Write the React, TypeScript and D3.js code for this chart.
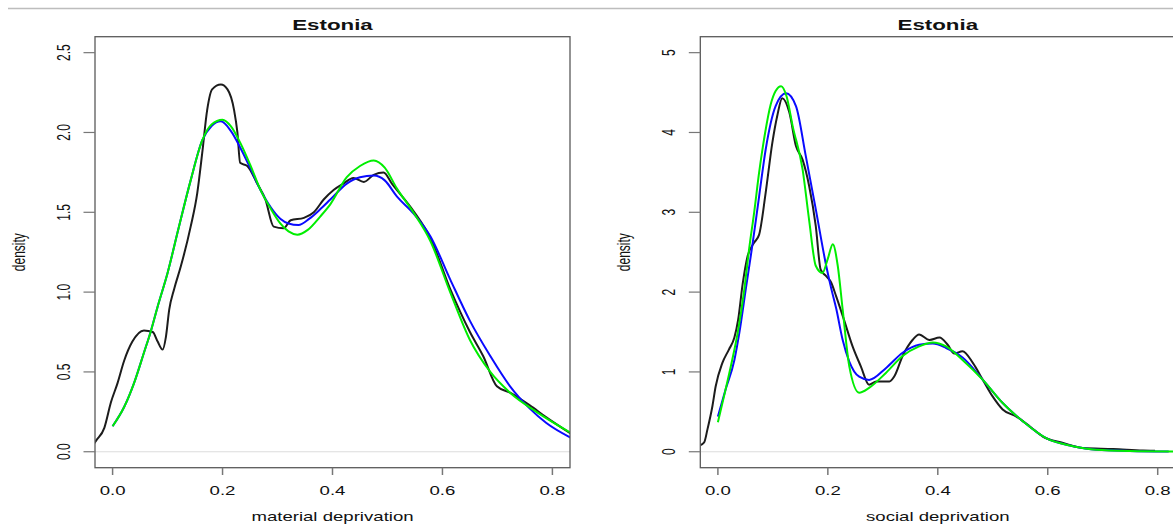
import { useMemo } from "react";
import * as d3 from "d3";

// density curves: [x, density]
const materialEmpirical: [number, number][] = [
  [-0.034, 0.05], [-0.03, 0.07], [-0.015, 0.15], [-0.003, 0.31], [0.009, 0.43], [0.021, 0.57], [0.036, 0.69],
  [0.057, 0.76], [0.073, 0.75], [0.082, 0.69], [0.091, 0.64], [0.097, 0.72], [0.103, 0.89],
  [0.112, 1.02], [0.124, 1.16], [0.142, 1.41], [0.154, 1.62], [0.163, 1.87], [0.172, 2.14],
  [0.181, 2.27], [0.197, 2.3], [0.209, 2.27], [0.221, 2.14], [0.227, 2.0], [0.232, 1.81],
  [0.245, 1.79], [0.263, 1.68], [0.278, 1.58], [0.293, 1.41], [0.311, 1.4], [0.324, 1.45],
  [0.348, 1.465], [0.366, 1.5], [0.384, 1.58], [0.402, 1.64], [0.42, 1.68], [0.438, 1.715],
  [0.457, 1.69], [0.475, 1.735], [0.493, 1.75], [0.508, 1.68], [0.547, 1.51], [0.578, 1.34],
  [0.614, 1.02], [0.65, 0.75], [0.674, 0.6], [0.699, 0.41], [0.723, 0.37], [0.759, 0.29],
  [0.789, 0.215], [0.835, 0.11],
];
const materialBlue: [number, number][] = [
  [0.0, 0.16], [0.021, 0.28], [0.039, 0.43], [0.057, 0.62], [0.07, 0.76], [0.082, 0.91],
  [0.1, 1.12], [0.12, 1.4], [0.142, 1.7], [0.163, 1.95], [0.18, 2.04], [0.197, 2.07],
  [0.215, 2.01], [0.233, 1.9], [0.25, 1.78], [0.269, 1.64], [0.288, 1.53], [0.305, 1.46],
  [0.32, 1.43], [0.338, 1.42], [0.358, 1.46], [0.378, 1.52], [0.396, 1.58], [0.426, 1.68],
  [0.45, 1.72], [0.475, 1.73], [0.495, 1.7], [0.517, 1.6], [0.548, 1.49], [0.578, 1.35],
  [0.614, 1.08], [0.65, 0.82], [0.687, 0.6], [0.723, 0.41], [0.759, 0.27], [0.789, 0.18],
  [0.835, 0.085],
];
const materialGreen: [number, number][] = [
  [0.0, 0.16], [0.021, 0.28], [0.039, 0.43], [0.057, 0.62], [0.07, 0.76], [0.082, 0.91],
  [0.1, 1.12], [0.12, 1.4], [0.142, 1.7], [0.163, 1.95], [0.18, 2.05], [0.2, 2.08],
  [0.215, 2.04], [0.233, 1.93], [0.25, 1.8], [0.269, 1.64], [0.288, 1.52], [0.305, 1.43],
  [0.32, 1.38], [0.336, 1.36], [0.355, 1.39], [0.378, 1.475], [0.396, 1.55], [0.426, 1.72],
  [0.45, 1.79], [0.475, 1.825], [0.495, 1.78], [0.517, 1.65], [0.547, 1.5], [0.578, 1.32],
  [0.614, 1.0], [0.65, 0.7], [0.687, 0.5], [0.723, 0.37], [0.771, 0.25], [0.835, 0.115],
];

const socialEmpirical: [number, number][] = [
  [-0.036, 0.07], [-0.025, 0.117], [-0.019, 0.28], [-0.01, 0.57], [-0.004, 0.82], [0.008, 1.11],
  [0.02, 1.28], [0.03, 1.43], [0.037, 1.66], [0.045, 2.1], [0.054, 2.45], [0.066, 2.62],
  [0.075, 2.72], [0.087, 3.25], [0.099, 3.87], [0.108, 4.21], [0.117, 4.43], [0.13, 4.25],
  [0.142, 3.83], [0.154, 3.66], [0.166, 3.33], [0.178, 2.83], [0.187, 2.28], [0.197, 2.2],
  [0.206, 2.12], [0.215, 1.95], [0.23, 1.64], [0.245, 1.32], [0.26, 1.07], [0.275, 0.84],
  [0.288, 0.88], [0.312, 0.88], [0.321, 0.945], [0.336, 1.2], [0.354, 1.4], [0.366, 1.47],
  [0.385, 1.4], [0.403, 1.43], [0.418, 1.34], [0.43, 1.23], [0.445, 1.26], [0.464, 1.11],
  [0.482, 0.9], [0.5, 0.69], [0.518, 0.53], [0.543, 0.44], [0.567, 0.32], [0.591, 0.19],
  [0.628, 0.11], [0.664, 0.046], [0.719, 0.034], [0.773, 0.016], [0.795, 0.012],
];
const socialBlue: [number, number][] = [
  [0.0, 0.44], [0.014, 0.78], [0.03, 1.15], [0.039, 1.49], [0.051, 2.05], [0.063, 2.6],
  [0.075, 3.2], [0.087, 3.79], [0.105, 4.33], [0.124, 4.49], [0.142, 4.33], [0.16, 3.7],
  [0.178, 3.04], [0.197, 2.33], [0.206, 2.05], [0.215, 1.8], [0.227, 1.4], [0.239, 1.13],
  [0.257, 0.94], [0.275, 0.9], [0.306, 1.05], [0.336, 1.24], [0.366, 1.34], [0.391, 1.355],
  [0.415, 1.3], [0.445, 1.18], [0.482, 0.9], [0.518, 0.61], [0.555, 0.38], [0.597, 0.17],
  [0.646, 0.07], [0.688, 0.025], [0.749, 0.01], [0.82, 0.004],
];
const socialGreen: [number, number][] = [
  [0.0, 0.37], [0.013, 0.75], [0.026, 1.15], [0.036, 1.49], [0.048, 2.03], [0.057, 2.55],
  [0.066, 3.0], [0.075, 3.5], [0.086, 4.0], [0.096, 4.35], [0.105, 4.52], [0.115, 4.58],
  [0.125, 4.45], [0.136, 4.08], [0.154, 3.54], [0.166, 2.9], [0.178, 2.33], [0.19, 2.24],
  [0.2, 2.42], [0.209, 2.6], [0.218, 2.33], [0.227, 1.78], [0.239, 1.07], [0.257, 0.74],
  [0.275, 0.8], [0.306, 0.99], [0.336, 1.2], [0.366, 1.32], [0.391, 1.37], [0.415, 1.32],
  [0.445, 1.15], [0.482, 0.9], [0.518, 0.61], [0.555, 0.38], [0.597, 0.17], [0.646, 0.07],
  [0.688, 0.025], [0.749, 0.01], [0.84, 0.004],
];

const xTicks = [0, 0.2, 0.4, 0.6, 0.8];
const materialYTicks = [0, 0.5, 1, 1.5, 2, 2.5];
const socialYTicks = [0, 1, 2, 3, 4, 5];

const panels = [
  {
    id: "material",
    title: "Estonia",
    xLabel: "material deprivation",
    yTicks: materialYTicks,
    yFormat: d3.format(".1f"),
    yDomain: [-0.1, 2.6],
    left: 95,
    series: [materialEmpirical, materialBlue, materialGreen],
  },
  {
    id: "social",
    title: "Estonia",
    xLabel: "social deprivation",
    yTicks: socialYTicks,
    yFormat: d3.format("d"),
    yDomain: [-0.2, 5.2],
    left: 700.3,
    series: [socialEmpirical, socialBlue, socialGreen],
  },
];

const colors = ["#1c1c1c", "#0a0aff", "#00ee00"];
const SX = 1.55; // the source picture is stretched horizontally
const font = "'Liberation Sans', Arial, Helvetica, sans-serif";

function SText({ x, y, rotate = false, size = 12, bold = false, anchor = "middle", children }: any) {
  return (
    <text
      transform={`translate(${x},${y}) scale(${SX},1)${rotate ? " rotate(-90)" : ""}`}
      textAnchor={anchor}
      fontSize={size}
      fontWeight={bold ? 700 : 400}
      fontFamily={font}
      fill="#111"
    >
      {children}
    </text>
  );
}

function Panel({ p }: any) {
  const top = 36.7;
  const bottom = 467.7;
  const w = 475;
  const x = useMemo(() => d3.scaleLinear().domain([-0.032, 0.832]).range([p.left, p.left + w]), [p.left]);
  const y = useMemo(() => d3.scaleLinear().domain(p.yDomain).range([bottom, top]), [p.yDomain]);
  const line = d3
    .line<[number, number]>()
    .x((d) => x(d[0]))
    .y((d) => y(d[1]))
    .curve(d3.curveMonotoneX);
  const cx = p.left + w / 2;

  return (
    <g>
      <defs>
        <clipPath id={`clip-${p.id}`}>
          <rect x={p.left} y={top} width={w} height={bottom - top} />
        </clipPath>
      </defs>
      <line x1={p.left} x2={p.left + w} y1={y(0)} y2={y(0)} stroke="#dcdcdc" strokeWidth={1.2} />
      <g clipPath={`url(#clip-${p.id})`}>
        {p.series.map((s: [number, number][], i: number) => (
          <path key={i} d={line(s) ?? ""} fill="none" stroke={colors[i]} strokeWidth={2} strokeLinejoin="round" />
        ))}
      </g>
      <rect x={p.left} y={top} width={w} height={bottom - top} fill="none" stroke="#5a5a5a" strokeWidth={1.3} />

      {/* y axis */}
      {p.yTicks.map((t: number) => (
        <g key={t}>
          <line x1={p.left - 11.5} x2={p.left} y1={y(t)} y2={y(t)} stroke="#777" strokeWidth={1.2} />
          <SText x={p.left - 25.5} y={y(t)} rotate>
            {p.yFormat(t)}
          </SText>
        </g>
      ))}
      <SText x={p.left - 70} y={(top + bottom) / 2} rotate>
        density
      </SText>

      {/* x axis */}
      {xTicks.map((t) => (
        <g key={t}>
          <line x1={x(t)} x2={x(t)} y1={bottom} y2={bottom + 7.3} stroke="#777" strokeWidth={1.5} />
          <SText x={x(t)} y={494.5}>
            {d3.format(".1f")(t)}
          </SText>
        </g>
      ))}
      <SText x={cx} y={520.5}>
        {p.xLabel}
      </SText>

      <SText x={cx} y={29.5} size={14.4} bold>
        {p.title}
      </SText>
    </g>
  );
}

export default function App() {
  return (
    <svg
      width={1173}
      height={524}
      style={{ position: "absolute", left: 0, top: 0, background: "#fff" }}
    >
      <line x1={8} x2={1173} y1={8.5} y2={8.5} stroke="#bdbdbd" strokeWidth={1.5} />
      {panels.map((p) => (
        <Panel key={p.id} p={p} />
      ))}
    </svg>
  );
}
